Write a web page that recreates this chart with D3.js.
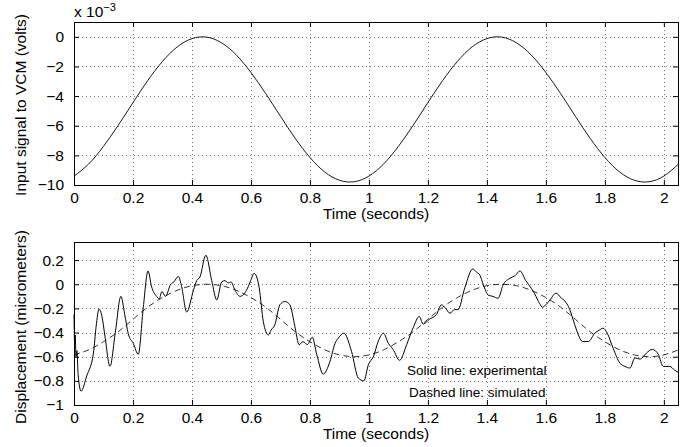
<!DOCTYPE html>
<meta charset="utf-8">
<style type="text/css">
    body{
      margin: 0;
      background: #fff;
    }
    svg{
      display: block;
    }
    text{
      font-family: "Liberation Sans", Arial, Helvetica, sans-serif;
      fill: #000;
    }
</style>
<body>
<script src="https://d3js.org/d3.v7.min.js"></script>
<script>

// ---- data ----

// top panel: input signal to the VCM (x 10^-3 volts), sampled every 0.05 s
var inputTime = [0, 0.05, 0.10, 0.15, 0.20, 0.25, 0.30, 0.35, 0.40, 0.45, 0.50,
                 0.55, 0.60, 0.65, 0.70, 0.75, 0.80, 0.85, 0.90, 0.95, 1.00,
                 1.05, 1.10, 1.15, 1.20, 1.25, 1.30, 1.35, 1.40, 1.45, 1.50,
                 1.55, 1.60, 1.65, 1.70, 1.75, 1.80, 1.85, 1.90, 1.95, 2.00, 2.05];
var inputVolts = [-9.40, -8.58, -7.39, -5.97, -4.44, -2.95, -1.66, -0.68, -0.12, -0.02, -0.40,
                  -1.22, -2.41, -3.83, -5.36, -6.85, -8.14, -9.12, -9.68, -9.78, -9.40,
                  -8.58, -7.39, -5.97, -4.44, -2.95, -1.66, -0.68, -0.12, -0.02, -0.40,
                  -1.22, -2.41, -3.83, -5.36, -6.85, -8.14, -9.12, -9.68, -9.78, -9.40, -8.58];

// bottom panel: measured displacement (micrometers)
var expTime = [0, 0.002, 0.004, 0.007, 0.010, 0.014, 0.024, 0.043, 0.066, 0.075, 0.085,
               0.095, 0.105, 0.122, 0.140, 0.159, 0.172, 0.184, 0.201, 0.218, 0.235,
               0.251, 0.263, 0.280, 0.289, 0.298, 0.310, 0.328, 0.339, 0.354, 0.365,
               0.382, 0.405, 0.416, 0.427, 0.447, 0.467, 0.484, 0.501, 0.512, 0.523,
               0.532, 0.546, 0.563, 0.585, 0.599, 0.611, 0.628, 0.642, 0.659, 0.668,
               0.681, 0.698, 0.715, 0.732, 0.749, 0.763, 0.777, 0.791, 0.808, 0.823,
               0.845, 0.868, 0.885, 0.896, 0.915, 0.941, 0.964, 0.983, 0.998, 1.015,
               1.032, 1.049, 1.066, 1.082, 1.104, 1.128, 1.150, 1.171, 1.184, 1.205,
               1.229, 1.246, 1.260, 1.275, 1.290, 1.302, 1.325, 1.352, 1.365, 1.376,
               1.388, 1.405, 1.420, 1.438, 1.455, 1.478, 1.495, 1.512, 1.532, 1.551,
               1.562, 1.579, 1.588, 1.600, 1.614, 1.634, 1.653, 1.668, 1.681, 1.698,
               1.712, 1.724, 1.744, 1.766, 1.781, 1.794, 1.808, 1.828, 1.851, 1.868,
               1.885, 1.902, 1.919, 1.930, 1.941, 1.961, 1.981, 1.998, 2.020, 2.036, 2.048];
var expDisp = [-0.25, -0.48, -0.42, -0.60, -0.55, -0.75, -0.885, -0.76, -0.57, -0.35, -0.205,
               -0.27, -0.43, -0.68, -0.40, -0.10, -0.25, -0.41, -0.49, -0.58, -0.19,
               0.11, -0.02, -0.10, -0.12, -0.06, -0.10, 0.00, 0.02, 0.065, -0.02,
               -0.23, -0.05, 0.03, 0.06, 0.24, 0.03, -0.13, 0.02, 0.03, 0.01,
               0.02, -0.05, -0.10, -0.05, 0.03, 0.09, -0.03, -0.31, -0.42, -0.38,
               -0.336, -0.17, -0.143, -0.17, -0.35, -0.50, -0.475, -0.50, -0.44, -0.58,
               -0.744, -0.64, -0.49, -0.446, -0.405, -0.556, -0.777, -0.80, -0.667, -0.60,
               -0.47, -0.405, -0.49, -0.54, -0.63, -0.50, -0.36, -0.267, -0.33, -0.29,
               -0.25, -0.17, -0.20, -0.24, -0.21, -0.21, -0.03, 0.127, 0.10, 0.077,
               -0.005, -0.09, -0.10, -0.116, -0.005, 0.05, 0.07, 0.11, 0.03, -0.035,
               -0.08, -0.16, -0.19, -0.17, -0.13, -0.074, -0.116, -0.15, -0.21, -0.336,
               -0.43, -0.474, -0.474, -0.405, -0.38, -0.364, -0.405, -0.53, -0.653, -0.68,
               -0.694, -0.61, -0.62, -0.60, -0.57, -0.54, -0.58, -0.68, -0.68, -0.71, -0.73];

// bottom panel: simulated displacement (micrometers), sampled every 0.05 s
var simTime = inputTime;
var simDisp = [-0.585, -0.543, -0.476, -0.393, -0.29, -0.19, -0.11, -0.05, -0.012, 0, -0.012,
               -0.05, -0.11, -0.19, -0.29, -0.393, -0.476, -0.543, -0.585, -0.60, -0.585,
               -0.543, -0.476, -0.393, -0.29, -0.19, -0.11, -0.05, -0.012, 0, -0.012,
               -0.05, -0.11, -0.19, -0.29, -0.393, -0.476, -0.543, -0.585, -0.60, -0.585, -0.543];

var xTicks      = [0, 0.2, 0.4, 0.6, 0.8, 1, 1.2, 1.4, 1.6, 1.8, 2];
var xTickLabels = ["0", "0.2", "0.4", "0.6", "0.8", "1", "1.2", "1.4", "1.6", "1.8", "2"];
var topYTicks      = [-10, -8, -6, -4, -2, 0];
var topYTickLabels = ["\u221210", "\u22128", "\u22126", "\u22124", "\u22122", "0"];
var botYTicks      = [-1, -0.8, -0.6, -0.4, -0.2, 0, 0.2];
var botYTickLabels = ["\u22121", "\u22120.8", "\u22120.6", "\u22120.4", "\u22120.2", "0", "0.2"];

// ---- layout ----
var width = 697, height = 447;
var left = 74, right = 678;
var fontSize = 15.5;

var svg = d3.select("body").append("svg")
  .attr("width", width)
  .attr("height", height);

function panel(opts){
  var x = d3.scaleLinear().domain([0, 2.048]).range([left, right]);
  var y = d3.scaleLinear().domain(opts.yDomain).range([opts.bottom, opts.top]);
  var g = svg.append("g");

  // dotted grid
  g.append("g").selectAll("line").data(xTicks.slice(1)).enter().append("line")
    .attr("x1", function(d){ return Math.round(x(d)) + 0.5; })
    .attr("x2", function(d){ return Math.round(x(d)) + 0.5; })
    .attr("y1", opts.top).attr("y2", opts.bottom)
    .attr("stroke", "#7a7a7a").attr("stroke-dasharray", "1,3");
  g.append("g").selectAll("line").data(opts.yTicks.filter(function(d){ return d != opts.yDomain[0]; })).enter().append("line")
    .attr("y1", function(d){ return Math.round(y(d)) + 0.5; })
    .attr("y2", function(d){ return Math.round(y(d)) + 0.5; })
    .attr("x1", left).attr("x2", right)
    .attr("stroke", "#7a7a7a").attr("stroke-dasharray", "1,3");

  // axes, ticks pointing inward like matlab
  var xAxis = d3.axisBottom(x).tickValues(xTicks)
    .tickFormat(function(d, i){ return xTickLabels[i]; })
    .tickSizeInner(-5).tickSizeOuter(0).tickPadding(7);
  var yAxis = d3.axisLeft(y).tickValues(opts.yTicks)
    .tickFormat(function(d, i){ return opts.yTickLabels[i]; })
    .tickSizeInner(-5).tickSizeOuter(0).tickPadding(10);

  g.append("g").attr("transform", "translate(0," + opts.bottom + ")").call(xAxis);
  g.append("g").attr("transform", "translate(" + left + ",0)").call(yAxis);
  g.append("g").attr("transform", "translate(0," + opts.top + ")")
    .call(d3.axisTop(x).tickValues(xTicks).tickFormat("").tickSizeInner(-5).tickSizeOuter(0));
  g.append("g").attr("transform", "translate(" + right + ",0)")
    .call(d3.axisRight(y).tickValues(opts.yTicks).tickFormat("").tickSizeInner(-5).tickSizeOuter(0));

  g.selectAll(".tick text")
    .attr("font-family", "'Liberation Sans', Arial, Helvetica, sans-serif")
    .attr("font-size", fontSize)
    .attr("fill", "#000");
  g.selectAll(".domain").remove();

  g.append("rect")
    .attr("x", left + 0.5).attr("y", opts.top + 0.5)
    .attr("width", right - left).attr("height", opts.bottom - opts.top)
    .attr("fill", "none").attr("stroke", "#000");

  g.append("text")
    .attr("x", (left + right) / 2)
    .attr("y", opts.bottom + 34)
    .attr("text-anchor", "middle")
    .style("font-size", fontSize + "px")
    .text("Time (seconds)");

  g.append("text")
    .attr("transform", "translate(26," + opts.labelY + ") rotate(-90)")
    .attr("text-anchor", "middle")
    .style("font-size", fontSize + "px")
    .text(opts.yLabel);

  return {g: g, x: x, y: y};
}

var topPanel = panel({
  top: 22, bottom: 185, yDomain: [-10, 1],
  yTicks: topYTicks, yTickLabels: topYTickLabels,
  yLabel: "Input signal to VCM (volts)", labelY: 105
});

var botPanel = panel({
  top: 242, bottom: 405, yDomain: [-1, 0.35],
  yTicks: botYTicks, yTickLabels: botYTickLabels,
  yLabel: "Displacement (micrometers)", labelY: 327
});

// exponent label above the top panel
var expo = svg.append("text")
  .attr("x", left)
  .attr("y", 17)
  .style("font-size", fontSize + "px");
expo.append("tspan").text("x 10");
expo.append("tspan").attr("dy", -6).style("font-size", "11px").text("\u22123");

// input signal
var inputData = inputTime.map(function(t, i){ return [t, inputVolts[i]]; });
topPanel.g.append("path")
  .datum(inputData)
  .attr("fill", "none")
  .attr("stroke", "#000")
  .attr("stroke-width", 0.9)
  .attr("d", d3.line()
    .x(function(d){ return topPanel.x(d[0]); })
    .y(function(d){ return topPanel.y(d[1]); })
    .curve(d3.curveNatural));

// simulated (dashed)
var simData = simTime.map(function(t, i){ return [t, simDisp[i]]; });
botPanel.g.append("path")
  .datum(simData)
  .attr("fill", "none")
  .attr("stroke", "#000")
  .attr("stroke-width", 0.8)
  .attr("stroke-dasharray", "6,4")
  .attr("d", d3.line()
    .x(function(d){ return botPanel.x(d[0]); })
    .y(function(d){ return botPanel.y(d[1]); })
    .curve(d3.curveNatural));

// experimental (solid)
var expData = expTime.map(function(t, i){ return [t, expDisp[i]]; });
botPanel.g.append("path")
  .datum(expData)
  .attr("fill", "none")
  .attr("stroke", "#000")
  .attr("stroke-width", 1)
  .attr("stroke-linejoin", "round")
  .attr("d", d3.line()
    .x(function(d){ return botPanel.x(d[0]); })
    .y(function(d){ return botPanel.y(d[1]); })
    .curve(d3.curveMonotoneX));

// annotations
botPanel.g.append("text")
  .attr("x", botPanel.x(1.129))
  .attr("y", botPanel.y(-0.752))
  .style("font-size", "13.5px")
  .text("Solid line: experimental");
botPanel.g.append("text")
  .attr("x", botPanel.x(1.136))
  .attr("y", botPanel.y(-0.934))
  .style("font-size", "13.5px")
  .text("Dashed line: simulated");

</script>
</body>
